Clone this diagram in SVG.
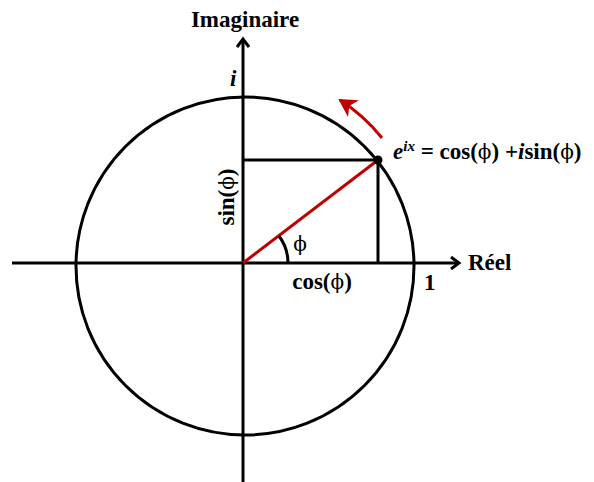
<svg xmlns="http://www.w3.org/2000/svg" width="594" height="482" viewBox="0 0 594 482">
<style>
.t{font-family:"Liberation Serif","Times New Roman",serif;font-weight:bold;font-size:23px;fill:#000}
.p{font-family:"DejaVu Serif",serif;font-weight:normal;font-size:20px}
.k{stroke:#000;stroke-width:3;fill:none}
.r{stroke:#c00000;stroke-width:3;fill:none}
</style>
<defs>
<marker id="ah" markerWidth="12" markerHeight="14" refX="9" refY="7" orient="auto" markerUnits="userSpaceOnUse"><path d="M1,1 L9,7 L1,13" fill="none" stroke="#000" stroke-width="3"/></marker>
<marker id="rh" markerWidth="24" markerHeight="24" refX="16" refY="12" orient="auto" markerUnits="userSpaceOnUse"><path d="M0,2 L18,12 L0,22 L5,12 Z" fill="#c00000"/></marker>
</defs>
<rect width="594" height="482" fill="#fff"/>
<g id="circle"><circle cx="245" cy="266" r="169" class="k"/></g>
<g id="connectors">
<line x1="12" y1="263" x2="459" y2="263" class="k" marker-end="url(#ah)"/>
<line x1="243" y1="482" x2="243" y2="39" class="k" marker-end="url(#ah)"/>
<line x1="243" y1="160" x2="378" y2="160" class="k"/>
<line x1="378" y1="160" x2="378" y2="263" class="k"/>
<line x1="243" y1="263" x2="378" y2="160" class="r"/>
<path d="M288,263 A45,45 0 0 0 279,236" class="k" stroke-width="2.5"/>
<path d="M382,138 A175,175 0 0 0 340,100" class="r" stroke-width="4" marker-end="url(#rh)"/>
<circle cx="378" cy="160" r="4.5" fill="#000"/>
</g>
<g id="labels">
<text class="t" x="245" y="27" text-anchor="middle">Imaginaire</text>
<text class="t" x="230" y="86" font-style="italic">i</text>
<text class="t" x="393" y="159"><tspan font-style="italic">e</tspan><tspan font-style="italic" font-size="15" dy="-8">ix</tspan><tspan dy="8"> = cos(</tspan><tspan class="p">ϕ</tspan>) +<tspan font-style="italic">i</tspan>sin(<tspan class="p">ϕ</tspan>)</text>
<text class="t" x="468" y="270">Réel</text>
<text class="t" x="424" y="290">1</text>
<text class="t" x="322" y="289" text-anchor="middle">cos(<tspan class="p">ϕ</tspan>)</text>
<text class="t p" x="300" y="251" text-anchor="middle">ϕ</text>
<text class="t" transform="translate(234,197) rotate(-90)" text-anchor="middle">sin(<tspan class="p">ϕ</tspan>)</text>
</g>
</svg>
